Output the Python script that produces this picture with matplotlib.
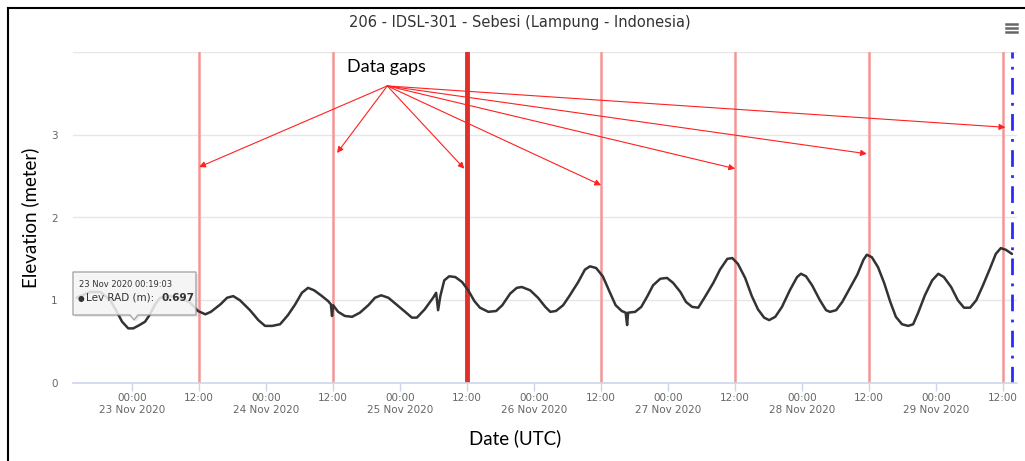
import matplotlib
matplotlib.use("Agg")
import matplotlib.pyplot as plt
import matplotlib.dates as mdates
from matplotlib.patches import Polygon
from matplotlib.lines import Line2D
import pandas as pd
import numpy as np

# ---------------- data ----------------
title = "206 - IDSL-301 - Sebesi (Lampung - Indonesia)"
base_time = "2020-11-23 00:00"
# hours since 23 Nov 2020 00:00 UTC
hours = [-10.0, -7.5, -5.7, -3.9, -2.9, -1.8, -0.7, 0.2, 1.3, 2.3, 3.2, 4.1, 5.0,
         6.8, 8.6, 10.4, 11.8, 13.1, 14.1, 15.8, 17.0, 18.1, 19.3, 21.1, 22.6,
         23.8, 25.1, 26.5, 27.9, 29.2, 30.4, 31.5, 32.6, 34.0, 35.1, 35.6, 35.8,
         36.0, 36.9, 38.1, 39.4, 40.8, 42.3, 43.5, 44.6, 45.9, 47.5, 48.9, 50.1,
         51.0, 52.4, 53.9, 54.45, 54.8, 55.2, 55.9, 56.8, 57.9, 59.1, 60.2, 61.3,
         62.3, 63.8, 65.2, 66.3, 67.7, 68.9, 69.8, 71.3, 72.7, 74.0, 74.9, 75.9,
         77.2, 78.4, 79.9, 81.1, 82.0, 83.1, 84.3, 85.6, 86.6, 87.7, 88.4, 88.66,
         88.84, 90.1, 91.2, 92.3, 93.3, 94.6, 95.8, 96.9, 98.2, 99.2, 100.3, 101.4,
         102.6, 104.1, 105.3, 106.6, 107.5, 108.5, 109.8, 111.0, 112.1, 113.2,
         114.1, 115.2, 116.4, 117.8, 119.1, 119.8, 120.7, 121.8, 123.2, 124.3,
         125.0, 126.1, 127.2, 128.6, 129.9, 131.0, 131.6, 132.5, 133.6, 134.7,
         135.8, 136.8, 137.9, 139.0, 139.9, 140.8, 142.0, 143.3, 144.4, 145.4,
         146.7, 147.9, 149.0, 150.1, 151.2, 152.4, 153.7, 154.7, 155.6, 156.5, 157.6]
level = [1.03, 1.10, 1.10, 1.00, 0.88, 0.74, 0.66, 0.66, 0.70, 0.74, 0.83, 0.95, 1.03,
         1.05, 1.03, 0.97, 0.87, 0.83, 0.86, 0.95, 1.03, 1.05, 1.00, 0.88, 0.76,
         0.69, 0.69, 0.71, 0.82, 0.95, 1.09, 1.15, 1.12, 1.05, 0.99, 0.95, 0.81,
         0.94, 0.86, 0.81, 0.80, 0.85, 0.94, 1.03, 1.06, 1.03, 0.94, 0.86, 0.79,
         0.79, 0.89, 1.03, 1.09, 0.88, 1.05, 1.24, 1.29, 1.28, 1.22, 1.12, 0.99,
         0.91, 0.86, 0.87, 0.94, 1.08, 1.15, 1.16, 1.12, 1.03, 0.92, 0.86, 0.87,
         0.94, 1.06, 1.22, 1.37, 1.41, 1.39, 1.29, 1.09, 0.94, 0.87, 0.85, 0.70,
         0.85, 0.86, 0.92, 1.05, 1.18, 1.26, 1.27, 1.21, 1.10, 0.98, 0.92, 0.91,
         1.04, 1.21, 1.37, 1.50, 1.51, 1.44, 1.27, 1.05, 0.89, 0.79,
         0.76, 0.80, 0.92, 1.12, 1.28, 1.32, 1.29, 1.18, 1.00, 0.88,
         0.86, 0.88, 0.98, 1.15, 1.31, 1.49, 1.55, 1.52, 1.40, 1.21,
         0.98, 0.80, 0.71, 0.69, 0.71, 0.85, 1.06, 1.24, 1.32, 1.28,
         1.16, 1.00, 0.91, 0.91, 1.00, 1.18, 1.39, 1.56, 1.63, 1.61, 1.56]
gap_hours = [12, 36, 60, 84, 108, 132, 156]        # red markers (12:00 each day)
gap_thick = [False, False, True, False, False, False, False]
latest_hour = 157.6                                 # blue dash-dot marker
arrow_targets_h = [12.0, 36.7, 59.5, 84.0, 108.0, 131.6, 156.4]
arrow_targets_v = [2.61, 2.78, 2.59, 2.39, 2.59, 2.77, 3.09]
arrow_origin = (45.7, 3.59)
y_ticks = [0, 1, 2, 3, 4]
x_range_h = (-10.6, 158.5)

# ---------------- helpers ----------------
t0 = pd.Timestamp(base_time)
def to_dt(h):
    return mdates.date2num(t0 + pd.to_timedelta(np.asarray(h, dtype=float), unit="h"))

W, H = 1025, 461
fig = plt.figure(figsize=(W / 100, H / 100), dpi=100)
fig.patch.set_facecolor("white")
def fx(px): return px / W
def fy(py): return 1 - py / H

ax = fig.add_axes([fx(73), fy(383), fx(1017) - fx(73), fy(52) - fy(383)])
ax.set_facecolor("white")

# grid
for yv in y_ticks[1:]:
    ax.axhline(yv, color="#e6e6e6", lw=1, zorder=0)

# red gap lines
for gh, thick in zip(gap_hours, gap_thick):
    if thick:
        ax.axvline(to_dt(gh), color="#e0302a", lw=3.5, zorder=1)
    else:
        ax.axvline(to_dt(gh), color="#f6b0b0", lw=2.2, zorder=1)
        ax.axvline(to_dt(gh), color="#f08c8c", lw=0.5, zorder=1)

ax.axvline(to_dt(latest_hour), color="#2a2aff", lw=2.0, ls=(0, (6, 3, 1, 3)), zorder=2)

# series
ax.plot(to_dt(hours), level, color="#333333", lw=1.8, zorder=3,
        solid_joinstyle="round", solid_capstyle="round")

ax.set_xlim(to_dt(x_range_h[0]), to_dt(x_range_h[1]))
ax.set_ylim(0, 4)

# axes styling
for s in ["top", "right", "left"]:
    ax.spines[s].set_visible(False)
ax.spines["bottom"].set_color("#ccd6eb")
ax.spines["bottom"].set_linewidth(1.2)

ax.set_yticks(y_ticks[:-1])
ax.set_yticklabels([str(v) for v in y_ticks[:-1]])
ax.tick_params(axis="y", length=0, pad=11, labelsize=7.5, labelcolor="#666666")

ax.xaxis.set_major_locator(mdates.HourLocator(byhour=[0, 12]))
def fmt(x, pos):
    d = mdates.num2date(x)
    if d.hour == 0:
        return "00:00\n" + d.strftime("%d %b %Y")
    return d.strftime("%H:%M")
ax.xaxis.set_major_formatter(plt.FuncFormatter(fmt))
ax.tick_params(axis="x", length=6, width=1, color="#ccd6eb", labelsize=7.5,
               labelcolor="#666666", pad=1)
for lab in ax.get_xticklabels():
    lab.set_linespacing(1.25)
    lab.set_verticalalignment("top")

# titles / labels
fig.text(fx(520), fy(22), title, ha="center", va="center", fontsize=10.5,
         color="#333333", family=["Liberation Sans Narrow", "DejaVu Sans"])
fig.text(fx(30), fy(218), "Elevation (meter)", rotation=90, ha="center", va="center",
         fontsize=13.5, color="black", family="Lato")
fig.text(fx(515), fy(438), "Date (UTC)", ha="center", va="center",
         fontsize=13.5, color="black", family="Lato")

# menu icon
for yy in (24, 28, 32):
    fig.add_artist(Line2D([fx(1006), fx(1017)], [fy(yy), fy(yy)], color="#666666", lw=1.8))

# annotation arrows
ax.text(to_dt(arrow_origin[0] - 0.2), 3.72, "Data gaps", ha="center", va="bottom",
        fontsize=13, family="Lato", color="black", zorder=6)
for th, tv in zip(arrow_targets_h, arrow_targets_v):
    ax.annotate("", xy=(to_dt(th), tv), xytext=(to_dt(arrow_origin[0]), arrow_origin[1]),
                arrowprops=dict(arrowstyle="-|>", color="#ff2020", lw=0.8,
                                mutation_scale=9, shrinkA=0, shrinkB=0), zorder=6)

# tooltip
shadow = Polygon([(fx(75), fy(274)), (fx(198), fy(274)), (fx(198), fy(317)),
                  (fx(140), fy(317)), (fx(136), fy(322)), (fx(132), fy(317)),
                  (fx(75), fy(317))], closed=True, facecolor="#000000", alpha=0.08,
                 edgecolor="none", transform=fig.transFigure, zorder=7)
fig.add_artist(shadow)
tip = Polygon([(fx(73), fy(272)), (fx(196), fy(272)), (fx(196), fy(315)),
               (fx(138), fy(315)), (fx(134), fy(320)), (fx(130), fy(315)),
               (fx(73), fy(315))], closed=True, facecolor="#f7f7f7", alpha=0.85,
              edgecolor="#999999", lw=1, transform=fig.transFigure, zorder=8)
fig.add_artist(tip)
fig.text(fx(79), fy(284), "23 Nov 2020 00:19:03", fontsize=6, color="#333333",
         va="center", zorder=9)
fig.text(fx(78), fy(298), "\u25cf", fontsize=5.5, color="#333333", va="center", zorder=9)
fig.text(fx(86), fy(298), "Lev RAD (m):", fontsize=7.5, color="#333333", va="center", zorder=9)
fig.text(fx(162), fy(298), "0.697", fontsize=7.5, color="#333333", va="center",
         weight="bold", zorder=9)

# outer black frame (screenshot border)
fig.add_artist(Line2D([fx(8), fx(1025)], [fy(8), fy(8)], color="black", lw=1.5))
fig.add_artist(Line2D([fx(8), fx(8)], [fy(8), fy(461)], color="black", lw=1.5))

fig.savefig("out.png", dpi=100)
